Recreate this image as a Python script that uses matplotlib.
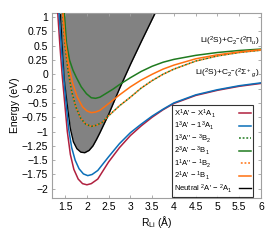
import matplotlib
matplotlib.use("Agg")
import matplotlib.pyplot as plt
from matplotlib.offsetbox import DrawingArea

plt.rcParams['font.family'] = ['Liberation Sans', 'DejaVu Sans']
plt.rcParams['mathtext.fontset'] = 'custom'
plt.rcParams['mathtext.rm'] = 'Liberation Sans'
plt.rcParams['mathtext.it'] = 'Liberation Sans:italic'
plt.rcParams['mathtext.sf'] = 'Liberation Sans'
plt.rcParams['axes.unicode_minus'] = True

# ---- data ----
r_x1 = [1.33, 1.38, 1.43, 1.49, 1.55, 1.62, 1.70, 1.80, 1.90, 2.00, 2.10, 2.25, 2.50, 2.75, 3.00, 3.25, 3.50, 3.75, 4.00, 4.50, 5.00, 5.50, 6.00]
e_x1 = [1.07, 0.50, 0.00, -0.50, -1.00, -1.40, -1.66, -1.83, -1.91, -1.93, -1.91, -1.83, -1.53, -1.28, -1.07, -0.90, -0.75, -0.62, -0.51, -0.37, -0.28, -0.21, -0.16]

r_13a = [1.36, 1.41, 1.46, 1.52, 1.58, 1.65, 1.73, 1.82, 1.92, 2.02, 2.12, 2.25, 2.50, 2.75, 3.00, 3.25, 3.50, 3.75, 4.00, 4.50, 5.00, 5.50, 6.00]
e_13a = [1.07, 0.50, 0.00, -0.50, -0.95, -1.28, -1.50, -1.65, -1.74, -1.77, -1.75, -1.68, -1.44, -1.21, -1.02, -0.87, -0.73, -0.61, -0.50, -0.36, -0.27, -0.20, -0.15]

r_13app = [1.44, 1.50, 1.57, 1.65, 1.75, 1.86, 1.97, 2.10, 2.22, 2.35, 2.52, 2.75, 3.00, 3.25, 3.50, 3.75, 4.00, 4.50, 5.00, 5.50, 6.00]
e_13app = [1.07, 0.50, 0.05, -0.30, -0.58, -0.77, -0.87, -0.91, -0.89, -0.84, -0.71, -0.55, -0.40, -0.24, -0.11, 0.00, 0.09, 0.23, 0.32, 0.38, 0.42]

r_23a = [1.48, 1.53, 1.60, 1.68, 1.76, 1.87, 1.99, 2.10, 2.20, 2.30, 2.45, 2.60, 2.75, 3.00, 3.25, 3.50, 3.75, 4.00, 4.50, 5.00, 5.50, 6.00]
e_23a = [1.07, 0.55, 0.25, 0.07, -0.06, -0.22, -0.34, -0.41, -0.42, -0.40, -0.33, -0.26, -0.18, -0.06, 0.05, 0.14, 0.21, 0.26, 0.33, 0.38, 0.415, 0.44]

r_11app = [1.44, 1.50, 1.57, 1.65, 1.75, 1.86, 1.97, 2.10, 2.22, 2.35, 2.52, 2.75, 3.00, 3.25, 3.50, 3.75, 4.00, 4.50, 5.00, 5.50, 6.00]
e_11app = [1.07, 0.50, 0.05, -0.30, -0.58, -0.77, -0.87, -0.91, -0.89, -0.84, -0.71, -0.55, -0.40, -0.24, -0.11, 0.00, 0.09, 0.23, 0.32, 0.38, 0.42]

r_21a = [1.45, 1.50, 1.57, 1.67, 1.78, 1.90, 2.00, 2.10, 2.20, 2.30, 2.52, 2.75, 3.00, 3.25, 3.50, 3.75, 4.00, 4.50, 5.00, 5.50, 6.00]
e_21a = [1.07, 0.60, 0.20, -0.15, -0.40, -0.57, -0.64, -0.67, -0.66, -0.63, -0.50, -0.36, -0.22, -0.10, 0.00, 0.09, 0.16, 0.27, 0.34, 0.39, 0.43]

r_neu = [1.39, 1.43, 1.48, 1.55, 1.62, 1.69, 1.77, 1.86, 1.95, 2.05, 2.14, 2.22, 2.30, 2.50, 2.75, 3.00, 3.25, 3.57]
e_neu = [1.07, 0.50, -0.10, -0.55, -0.95, -1.18, -1.30, -1.36, -1.37, -1.33, -1.25, -1.14, -1.02, -0.70, -0.25, 0.17, 0.57, 1.07]

labels = ["X$^1$A' − X$^1$A$_1$", "1$^3$A' − 1$^3$A$_1$", "1$^3$A'' − $^3$B$_2$",
          "2$^3$A' − $^3$B$_1$", "1$^1$A'' − $^1$B$_2$", "2$^1$A' − $^1$B$_1$",
          "Neutral $^2$A' − $^2$A$_1$"]
asym_labels = ["Li($^2$S)+C$_2$$^{-}$($^2\\Pi_u$)", "Li($^2$S)+C$_2$$^{-}$($^2\\Sigma^+$$_g$)"]
xticks = [1.5, 2, 2.5, 3, 3.5, 4, 4.5, 5, 5.5, 6]
yticks = [-2, -1.75, -1.5, -1.25, -1, -0.75, -0.5, -0.25, 0, 0.25, 0.5, 0.75, 1]

c_red = '#b0203f'
c_blue = '#0a6fb8'
c_green = '#1f7a1f'
c_orange = '#ff7010'

fig = plt.figure(figsize=(2.8, 2.45), dpi=100)
ax = fig.add_axes([0.186, 0.192, 0.746, 0.755])

ax.fill_between(r_neu, e_neu, 1.2, color='#828282', lw=0, zorder=1)
l7, = ax.plot(r_neu, e_neu, color='black', lw=1.0, zorder=2)
l1, = ax.plot(r_x1, e_x1, color=c_red, lw=1.1, zorder=3)
l2, = ax.plot(r_13a, e_13a, color=c_blue, lw=1.1, zorder=4)
l3, = ax.plot(r_13app, e_13app, color=c_green, lw=1.1, ls=(0, (1.2, 1.2)), zorder=5)
l4, = ax.plot(r_23a, e_23a, color=c_green, lw=1.1, zorder=5)
l5, = ax.plot(r_11app, e_11app, color=c_orange, lw=1.1, ls=(1.2, (1.2, 1.2)), zorder=6)
l6, = ax.plot(r_21a, e_21a, color=c_orange, lw=1.1, zorder=6)

ax.set_xlim(1.2, 6.0)
ax.set_ylim(-2.16, 1.07)
ax.set_xticks(xticks)
ax.set_xticklabels([f"{t:g}" for t in xticks])
ax.set_yticks(yticks)
ax.set_yticklabels([f"{t:g}".replace('-', '−') for t in yticks])
ax.tick_params(direction='in', length=2.5, width=0.6, color='#a0a0a0', labelsize=7.5,
               top=True, right=True, pad=3)
for s in ax.spines.values():
    s.set_color('#a0a0a0')
    s.set_linewidth(0.8)

ax.set_xlabel("R$_{\\rm Li}$ (Å)", fontsize=7.5, labelpad=1)
ax.set_ylabel("Energy (eV)", fontsize=7.5, labelpad=1)

ax.text(5.97, 0.57, asym_labels[0], fontsize=6, ha='right', va='center')
ax.text(5.97, 0.02, asym_labels[1], fontsize=6, ha='right', va='center')

leg = ax.legend([l1, l2, l3, l4, l5, l6, l7], labels, loc='lower right',
                bbox_to_anchor=(0.962, 0.005), fontsize=5.5, markerfirst=False,
                frameon=True, fancybox=False, handlelength=1.6, labelspacing=0.0,
                borderpad=0.3, handletextpad=0.8, borderaxespad=0)
leg.get_frame().set_edgecolor('black')
leg.get_frame().set_linewidth(0.8)

# left-align the legend texts while keeping handles aligned on the right
try:
    fig.canvas.draw()
    renderer = fig.canvas.get_renderer()
    for column in leg._legend_handle_box.get_children():
        rows = column.get_children()
        widths = [row.get_children()[0].get_bbox(renderer).width for row in rows]
        wmax = max(widths)
        for row, w in zip(rows, widths):
            text, handle = row.get_children()[:2]
            pad = DrawingArea((wmax - w) * 72.0 / fig.dpi, 0.1)
            row._children = [text, pad, handle]
            row.sep = row.sep / 2.0
except Exception:
    pass

fig.savefig('out.png', dpi=100)
